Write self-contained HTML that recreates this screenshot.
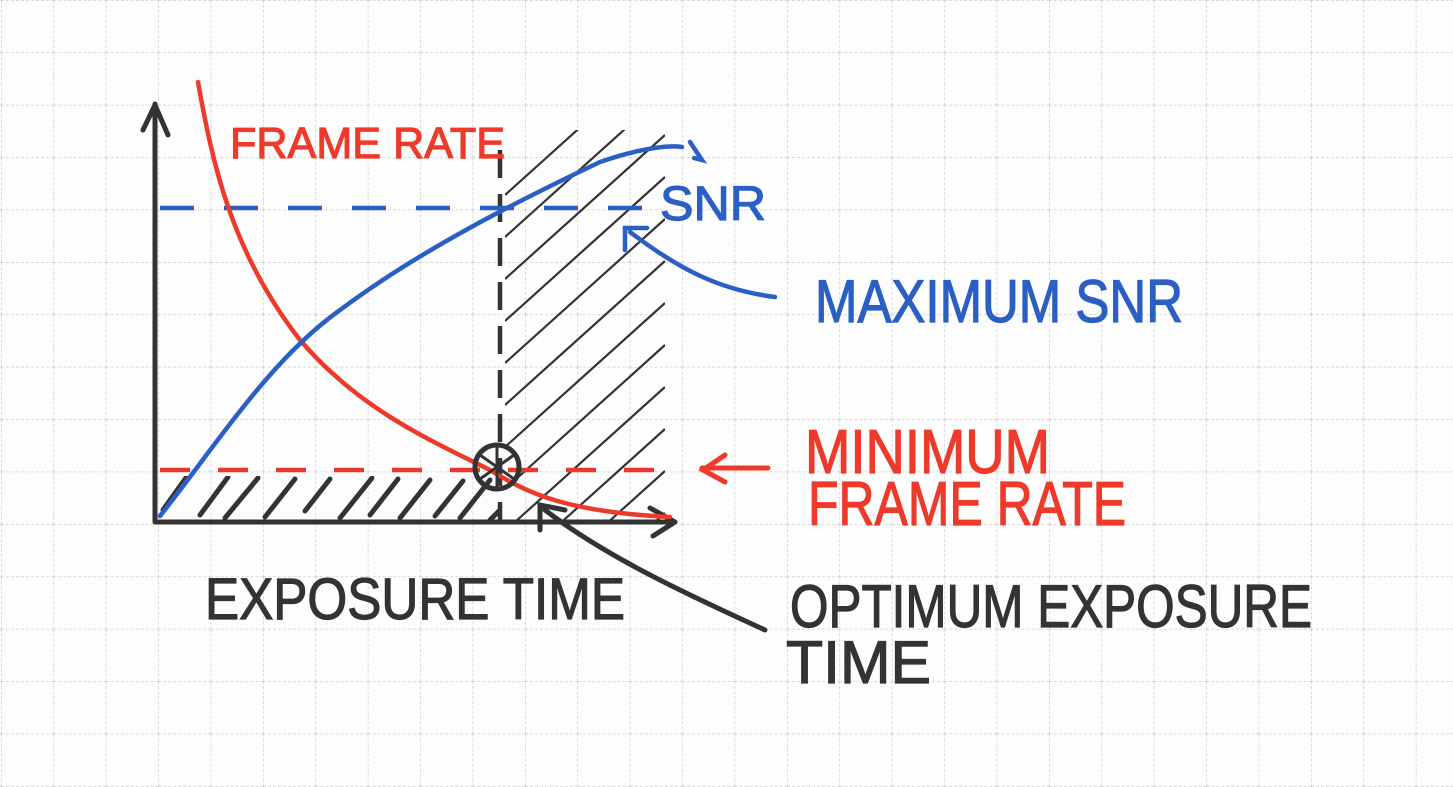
<!DOCTYPE html>
<html><head><meta charset="utf-8"><style>
html,body{margin:0;padding:0;background:#fff;}
svg{display:block;}
text{font-family:"Liberation Sans",sans-serif;}
</style></head><body>
<svg width="1453" height="787" viewBox="0 0 1453 787" xmlns="http://www.w3.org/2000/svg">
<defs>
<pattern id="g" x="1" y="0" width="52.4" height="52.4" patternUnits="userSpaceOnUse">
<path d="M0 0V52.4M0 0H52.4" stroke="#c4c4c4" stroke-width="1.2" stroke-dasharray="3 2" fill="none"/>
</pattern>
<clipPath id="cr"><rect x="505" y="130" width="160" height="390"/></clipPath>
<clipPath id="cb"><rect x="160" y="476" width="340" height="44"/></clipPath>
</defs>
<rect width="1453" height="787" fill="#fdfdfd"/>
<rect width="1453" height="787" fill="url(#g)"/>

<g stroke="#333" stroke-width="2.2" clip-path="url(#cr)" fill="none">
<path d="M505 195l160-144M505 237l160-144M505 279l160-144M505 321l160-144M505 363l160-144M505 405l160-144M505 447l160-144M505 489l160-144M505 531l160-144M505 573l160-144M505 615l160-144M505 657l160-144"/>
</g>
<g stroke="#333" stroke-width="5" stroke-linecap="round" clip-path="url(#cb)" fill="none">
<path d="M163 510l25-35M200 515l28-38M225 518l33-40M265 517l30-38M305 511l25-32M340 518l32-40M370 515l28-36M400 518l30-38M435 516l28-35M460 518l30-38M490 520l15-15"/>
</g>

<path d="M155 522V104M143 130l12-25 13 30M155 522H675M650 508l25 14-22 14" stroke="#333" stroke-width="5" fill="none" stroke-linecap="round" stroke-linejoin="round"/>
<path d="M500 150V522" stroke="#333" stroke-width="4.5" stroke-dasharray="28 16" fill="none"/>

<path d="M160 208H660" stroke="#2a5fc4" stroke-width="4.5" stroke-dasharray="34 30" fill="none"/>
<path d="M160 470H665" stroke="#e83a2e" stroke-width="4.5" stroke-dasharray="30 28" fill="none"/>

<path d="M198 82C212 160 230 250 300 340C360 410 430 440 490 470C530 495 570 512 670 517" stroke="#ee3a2a" stroke-width="4.5" fill="none" stroke-linecap="round"/>
<path d="M160 516C220 440 270 360 340 310C420 250 520 200 600 162C640 148 670 145 682 147M690 142l12 18-8-2" stroke="#2a5fc4" stroke-width="4.5" fill="none" stroke-linecap="round"/>

<circle cx="497" cy="467" r="22" stroke="#333" stroke-width="5" fill="none"/>
<path d="M497 445V489M480 455l34 24M514 455l-34 24" stroke="#333" stroke-width="3" fill="none"/>

<path d="M775 297C720 290 680 270 630 232M625 250l0-22 22 0" stroke="#2a5fc4" stroke-width="4.5" fill="none" stroke-linecap="round"/>
<path d="M768 468H702M725 455l-22 15 22 12" stroke="#ee3a2a" stroke-width="5" fill="none" stroke-linecap="round"/>
<path d="M765 630C700 600 610 560 545 510M540 530l0-25 25 5" stroke="#333" stroke-width="5" fill="none" stroke-linecap="round"/>

<g stroke-width="1.2">
<text x="230" y="158" fill="#ee3a2a" stroke="#ee3a2a" font-size="44" textLength="275" lengthAdjust="spacingAndGlyphs">FRAME RATE</text>
<text x="660" y="220" fill="#2a5fc4" stroke="#2a5fc4" font-size="48" textLength="106" lengthAdjust="spacingAndGlyphs">SNR</text>
<text x="815" y="322" fill="#2a5fc4" stroke="#2a5fc4" font-size="60" textLength="368" lengthAdjust="spacingAndGlyphs">MAXIMUM SNR</text>
<text x="805" y="473" fill="#ee3a2a" stroke="#ee3a2a" font-size="62" textLength="245" lengthAdjust="spacingAndGlyphs">MINIMUM</text>
<text x="808" y="525" fill="#ee3a2a" stroke="#ee3a2a" font-size="62" textLength="318" lengthAdjust="spacingAndGlyphs">FRAME RATE</text>
<text x="205" y="619" fill="#333" stroke="#333" font-size="58" textLength="420" lengthAdjust="spacingAndGlyphs">EXPOSURE TIME</text>
<text x="790" y="627" fill="#333" stroke="#333" font-size="60" textLength="522" lengthAdjust="spacingAndGlyphs">OPTIMUM EXPOSURE</text>
<text x="786" y="683" fill="#333" stroke="#333" font-size="60" textLength="145" lengthAdjust="spacingAndGlyphs">TIME</text>
</g>
</svg>
</body></html>
